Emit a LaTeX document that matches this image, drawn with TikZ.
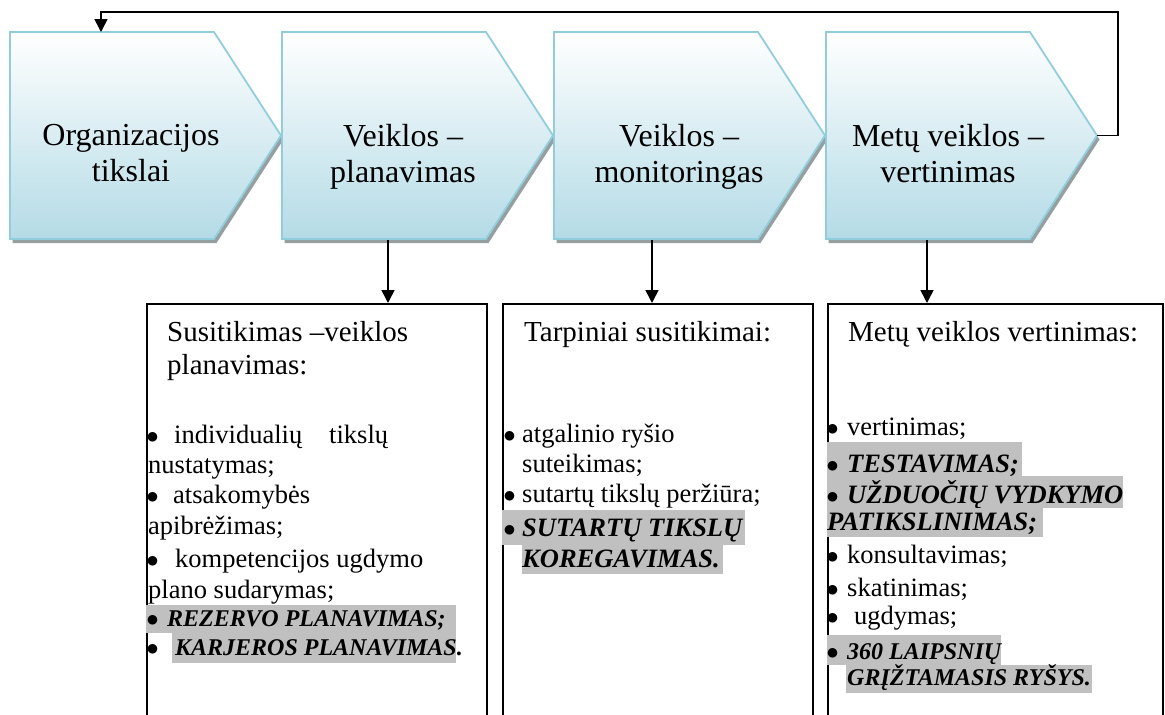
\documentclass[tikz,border=0pt]{standalone}
\usepackage{fontspec}
\setmainfont{Liberation Serif}
\usetikzlibrary{arrows.meta}
\setlength{\parindent}{0pt}

\definecolor{stepedge}{RGB}{146,205,220}
\definecolor{stepfill}{RGB}{180,219,230}
\definecolor{stepshade}{RGB}{150,158,160}
\definecolor{hlgray}{RGB}{192,192,192}

% fixed-width row so the grey highlight ends where it should
\newcommand{\hlrow}[2]{\makebox[#1][l]{#2}}
% list bullet: a round dot about 9pt across
\newcommand{\bul}{\makebox[9pt][c]{\fontsize{30}{30}\selectfont$\bullet$}}

\tikzset{
  stepshape/.style={draw=stepedge, line width=1.8pt, top color=white, bottom color=stepfill},
  stepshadow/.style={fill=stepshade},
  steptext/.style={font=\fontsize{32}{36}\selectfont, align=center, anchor=north, inner sep=0pt},
  listbox/.style={draw=black, line width=1.6pt, inner sep=0pt, anchor=north west},
  ttl/.style={font=\fontsize{29}{33}\selectfont, anchor=base west, inner sep=0pt},
  itm/.style={font=\fontsize{26.5}{31}\selectfont, anchor=base west, inner sep=0pt},
  hlitm/.style={font=\fontsize{26.5}{31}\selectfont\bfseries\itshape, fill=hlgray,
    anchor=base west, inner sep=0pt},
  hlsmall/.style={hlitm, font=\fontsize{24}{28}\selectfont\bfseries\itshape},
  link/.style={line width=1.6pt, -{Triangle[length=13pt,width=13pt]}},
}

\begin{document}
\begin{tikzpicture}[x=1pt,y=-1pt]
\useasboundingbox (0,0) rectangle (1165,715);
\clip (0,0) rectangle (1165,715);

% process steps: shadow first, then the shaded pentagon
\foreach \L in {10,282,554,826} {
  \fill[stepshadow] (\L+2.5,36) -- (\L+206.5,36) -- (\L+273.5,139.5) -- (\L+206.5,243) -- (\L+2.5,243) -- cycle;
  \draw[stepshape] (\L,32) -- (\L+204,32) -- (\L+271,135.5) -- (\L+204,239) -- (\L,239) -- cycle;
}

\node[steptext] (t1) at (131,124) {Organizacijos\\tikslai};
\node[steptext] (t2) at (403,124) {Veiklos –\\planavimas};
\node[steptext] (t3) at (679,124) {Veiklos –\\monitoringas};
\node[steptext] (t4) at (948,124) {Metų veiklos –\\vertinimas};

% anchor points on the steps
\coordinate (s1top) at (101,32);
\coordinate (s4tip) at (1097,135.5);
\coordinate (loop) at (1118,12);
\coordinate (s2bot) at (388,240);
\coordinate (s3bot) at (652,240);
\coordinate (s4bot) at (927,240);

% detail boxes (open at the bottom edge)
\node[listbox, minimum width=340pt, minimum height=440pt] (box1) at (146,303) {};
\node[listbox, minimum width=310pt, minimum height=440pt] (box2) at (502,303) {};
\node[listbox, minimum width=335pt, minimum height=440pt] (box3) at (827,303) {};

% connectors
\draw[link] (s4tip) -| (loop) -| (s1top);
\draw[link] (s2bot) -- (s2bot |- box1.north);
\draw[link] (s3bot) -- (s3bot |- box2.north);
\draw[link] (s4bot) -- (s4bot |- box3.north);

% box 1
\node[ttl] (b1t1) at (167,341) {Susitikimas –veiklos};
\node[ttl] (b1t2) at (167,374) {planavimas:};
\node[itm] (b1i1) at (148,443) {\makebox[26pt][l]{\bul}\makebox[155pt][l]{individualių}tikslų};
\node[itm] (b1i1b) at (148,473) {nustatymas;};
\node[itm] (b1i2) at (148,503) {\makebox[25pt][l]{\bul}atsakomybės};
\node[itm] (b1i2b) at (148,534) {apibrėžimas;};
\node[itm] (b1i3) at (148,567) {\makebox[27pt][l]{\bul}kompetencijos ugdymo};
\node[itm] (b1i3b) at (148,598) {plano sudarymas;};
\node[hlsmall, text height=21pt, text depth=7pt] (b1i4) at (146,626)
  {\hlrow{310pt}{\hspace*{2pt}\makebox[19pt][l]{\bul}REZERVO PLANAVIMAS;}};
\node[itm] (b1i5) at (148,655) {\bul};
\node[hlsmall, text height=22pt, text depth=8pt] (b1i5b) at (172,655)
  {\hlrow{284pt}{\hspace*{3pt}KARJEROS PLANAVIMAS.}};

% box 2
\node[ttl] (b2t) at (524,341) {Tarpiniai susitikimai:};
\node[itm] (b2i1) at (505,442) {\makebox[17pt][l]{\bul}atgalinio ryšio};
\node[itm] (b2i1b) at (522,472) {suteikimas;};
\node[itm] (b2i2) at (505,502) {\makebox[17pt][l]{\bul}sutartų tikslų peržiūra;};
\node[hlitm, text height=26pt, text depth=9pt] (b2i3) at (502,536)
  {\hlrow{243pt}{\hspace*{3pt}\makebox[17pt][l]{\bul}SUTARTŲ TIKSLŲ}};
\node[hlitm, text height=22pt, text depth=7pt] (b2i3b) at (522,567)
  {\hlrow{201pt}{KOREGAVIMAS.}};

% box 3
\node[ttl] (b3t) at (848,341) {Metų veiklos vertinimas:};
\node[itm] (b3i1) at (828,435) {\makebox[19pt][l]{\bul}vertinimas;};
\node[hlitm, text height=30pt, text depth=4pt] (b3i2) at (827,472)
  {\hlrow{195pt}{\hspace*{1pt}\makebox[19pt][l]{\bul}TESTAVIMAS;}};
\node[hlitm, text height=27pt, text depth=5pt] (b3i3) at (827,503)
  {\hlrow{296pt}{\hspace*{1pt}\makebox[19pt][l]{\bul}UŽDUOČIŲ VYDKYMO}};
\node[hlitm, text height=22pt, text depth=7pt] (b3i3b) at (827,530)
  {\hlrow{216pt}{PATIKSLINIMAS;}};
\node[itm] (b3i4) at (828,563) {\makebox[19pt][l]{\bul}konsultavimas;};
\node[itm] (b3i5) at (828,596) {\makebox[19pt][l]{\bul}skatinimas;};
\node[itm] (b3i6) at (828,624) {\makebox[26pt][l]{\bul}ugdymas;};
\node[hlsmall, text height=24pt, text depth=6pt] (b3i7) at (827,659)
  {\hlrow{174pt}{\hspace*{1pt}\makebox[19pt][l]{\bul}360 LAIPSNIŲ}};
\node[hlsmall, text height=20pt, text depth=8pt] (b3i7b) at (846,685)
  {\hlrow{246pt}{\hspace*{1pt}GRĮŽTAMASIS RYŠYS.}};
\end{tikzpicture}
\end{document}
